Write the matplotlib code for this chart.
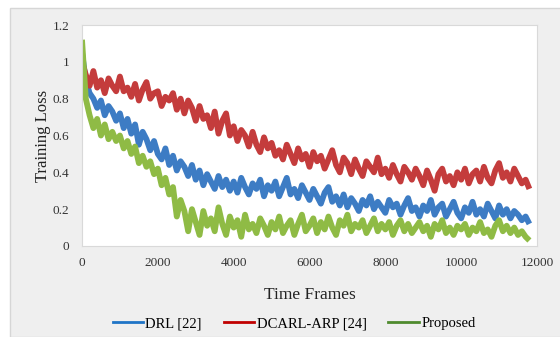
import matplotlib
matplotlib.use("Agg")
import matplotlib.pyplot as plt
from matplotlib.patches import Rectangle
from matplotlib.lines import Line2D

# time frames 0..11800, step 100
frames = list(range(0, 11900, 100))

drl = [1.05, 0.90, 0.83, 0.80, 0.75, 0.79, 0.71, 0.76, 0.73, 0.68,
       0.72, 0.64, 0.69, 0.61, 0.66, 0.55, 0.62, 0.58, 0.52, 0.57,
       0.50, 0.47, 0.53, 0.44, 0.49, 0.41, 0.46, 0.43, 0.38, 0.44,
       0.36, 0.41, 0.33, 0.39, 0.35, 0.31, 0.38, 0.32, 0.36, 0.30,
       0.35, 0.29, 0.37, 0.32, 0.28, 0.34, 0.31, 0.36, 0.27, 0.33,
       0.30, 0.35, 0.27, 0.32, 0.37, 0.28, 0.31, 0.26, 0.33, 0.29,
       0.25, 0.31, 0.27, 0.23, 0.29, 0.32, 0.24, 0.27, 0.22, 0.28,
       0.21, 0.26, 0.23, 0.19, 0.25, 0.22, 0.27, 0.20, 0.24, 0.21,
       0.18, 0.25, 0.21, 0.23, 0.17, 0.22, 0.26, 0.19, 0.21, 0.16,
       0.22, 0.19, 0.25, 0.17, 0.21, 0.23, 0.16, 0.20, 0.24, 0.18,
       0.15, 0.21, 0.18, 0.24, 0.17, 0.20, 0.16, 0.23, 0.19, 0.15,
       0.22, 0.17, 0.20, 0.15, 0.19, 0.17, 0.14, 0.16, 0.12]

dcarl = [1.00, 0.93, 0.87, 0.95, 0.86, 0.90, 0.83, 0.91, 0.87, 0.84,
         0.92, 0.84, 0.86, 0.81, 0.88, 0.79, 0.85, 0.89, 0.80, 0.83,
         0.84, 0.76, 0.81, 0.79, 0.83, 0.74, 0.80, 0.72, 0.79, 0.75,
         0.68, 0.76, 0.69, 0.71, 0.64, 0.73, 0.61, 0.68, 0.72, 0.60,
         0.65, 0.57, 0.63, 0.60, 0.54, 0.62, 0.55, 0.51, 0.59, 0.53,
         0.56, 0.49, 0.52, 0.47, 0.55, 0.50, 0.45, 0.53, 0.47, 0.50,
         0.43, 0.51, 0.46, 0.49, 0.42, 0.47, 0.52, 0.44, 0.40, 0.48,
         0.45, 0.39, 0.47, 0.42, 0.38, 0.46, 0.43, 0.40, 0.48, 0.39,
         0.42, 0.37, 0.44, 0.39, 0.35, 0.43, 0.40, 0.36, 0.42, 0.38,
         0.33, 0.41, 0.36, 0.30, 0.39, 0.42, 0.35, 0.38, 0.33, 0.40,
         0.36, 0.42, 0.34, 0.39, 0.41, 0.35, 0.43, 0.37, 0.34, 0.41,
         0.45, 0.37, 0.40, 0.35, 0.42, 0.38, 0.34, 0.36, 0.31]

proposed = [1.12, 0.80, 0.71, 0.64, 0.69, 0.60, 0.66, 0.58, 0.62, 0.57,
            0.60, 0.53, 0.57, 0.50, 0.54, 0.45, 0.49, 0.43, 0.46, 0.39,
            0.42, 0.33, 0.37, 0.28, 0.32, 0.16, 0.25, 0.19, 0.08, 0.20,
            0.13, 0.06, 0.19, 0.11, 0.15, 0.08, 0.21, 0.12, 0.06, 0.16,
            0.10, 0.14, 0.05, 0.17, 0.09, 0.12, 0.07, 0.15, 0.11, 0.06,
            0.13, 0.09, 0.16, 0.07, 0.11, 0.14, 0.06, 0.12, 0.17, 0.08,
            0.11, 0.15, 0.07, 0.13, 0.09, 0.16, 0.10, 0.06, 0.14, 0.11,
            0.17, 0.08, 0.12, 0.10, 0.14, 0.07, 0.11, 0.15, 0.08, 0.12,
            0.09, 0.13, 0.06, 0.11, 0.14, 0.08, 0.12, 0.07, 0.10, 0.13,
            0.08, 0.11, 0.05, 0.12, 0.09, 0.14, 0.07, 0.10, 0.06, 0.11,
            0.09, 0.12, 0.06, 0.10, 0.08, 0.13, 0.07, 0.09, 0.05, 0.11,
            0.14, 0.08, 0.11, 0.07, 0.10, 0.06, 0.08, 0.05, 0.03]

labels = ["DRL [22]", "DCARL-ARP [24]", "Proposed"]
line_colors = ["#3d7cc4", "#c43c3c", "#8fbb45"]
legend_colors = ["#1f74c6", "#c00000", "#4f8b2e"]

plt.rcParams['font.family'] = ['Liberation Serif', 'DejaVu Serif']

fig = plt.figure(figsize=(5.6, 3.37), dpi=100)
fig.patch.set_facecolor("white")
# gray chart panel like the Excel chart area
panel = Rectangle((10 / 560, 0), 1, 1 - 8 / 337, transform=fig.transFigure,
                  facecolor="#efefef", edgecolor="#d6d6d6", linewidth=1, zorder=-10)
fig.patches.append(panel)

ax = fig.add_axes([82 / 560, 1 - 246 / 337, (537 - 82) / 560, (246 - 25) / 337])
ax.set_facecolor("white")

for series, c in zip([drl, dcarl, proposed], line_colors):
    ax.plot(frames, series, color=c, linewidth=4.2, solid_joinstyle="round",
            solid_capstyle="butt")

ax.set_xlim(0, 12000)
ax.set_ylim(0, 1.2)
ax.set_xticks([0, 2000, 4000, 6000, 8000, 10000, 12000])
ax.set_yticks([0, 0.2, 0.4, 0.6, 0.8, 1.0, 1.2])
ax.set_yticklabels(["0", "0.2", "0.4", "0.6", "0.8", "1", "1.2"])
ax.tick_params(length=0, labelsize=9.5, colors="#333333", pad=9)
ax.tick_params(axis="x", pad=8)
for s in ax.spines.values():
    s.set_color("#d9d9d9")
    s.set_linewidth(0.8)

ax.set_xlabel("Time Frames", fontsize=12.5, color="#222222", labelpad=13)
ax.set_ylabel("Training Loss", fontsize=12, color="#222222", labelpad=1)

handles = [Line2D([], [], color=c, linewidth=2) for c in legend_colors]
fig.legend(handles, labels, loc="center", bbox_to_anchor=(0.525, 0.04), ncol=3,
           frameon=False, fontsize=10.5, handlelength=2.1, handletextpad=0.15,
           columnspacing=1.5)

fig.savefig("out.png", dpi=100)
